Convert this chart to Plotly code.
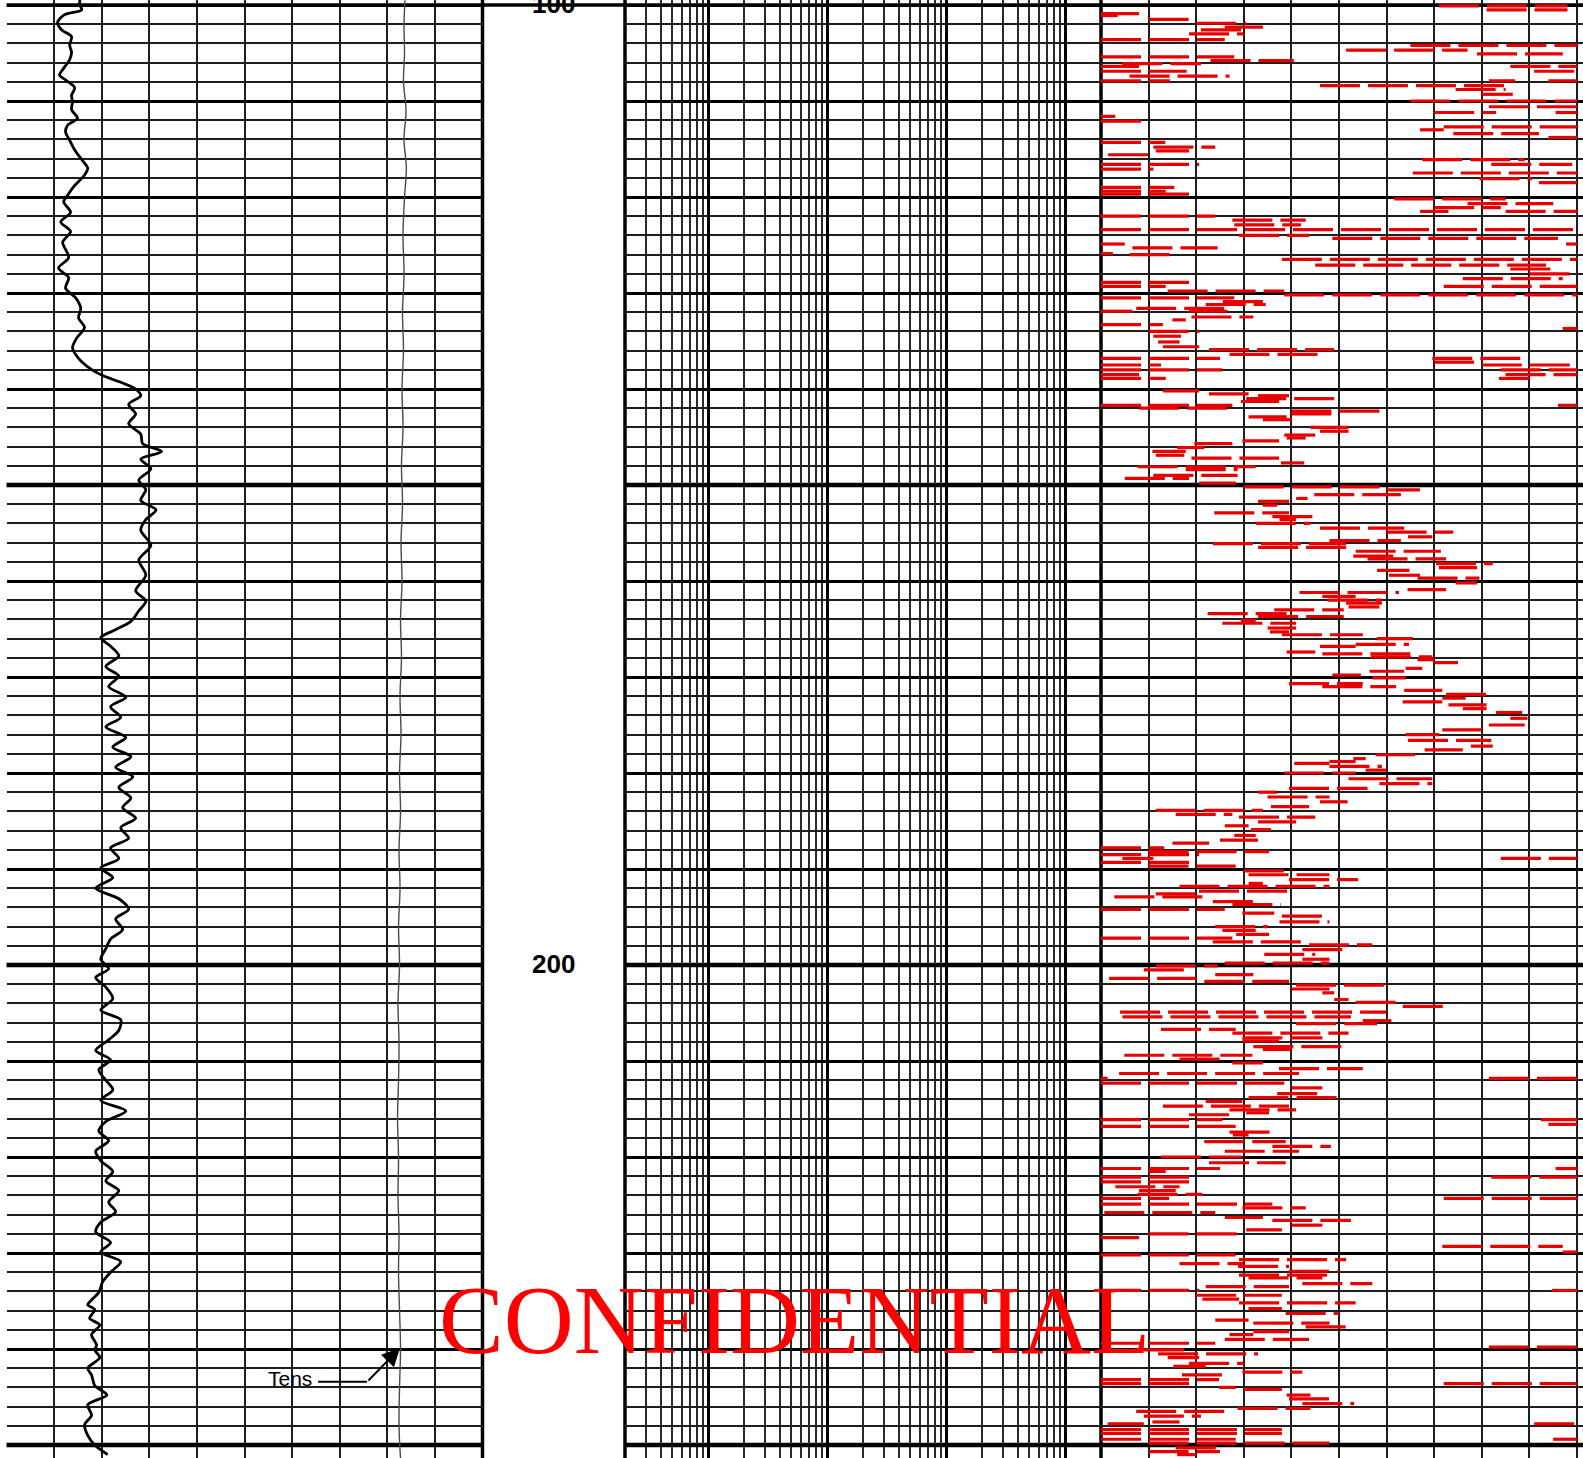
import math
import plotly.graph_objects as go

W, H = 1583, 1458

# ---- depth window shown on the page (track depth increases downwards) ----
DEPTH_TOP = 99.479
DEPTH_BOTTOM = 251.354
depth_labels = [100, 200]

# ---- Track 1: gamma ray (API, 0-150) ----
gr_depth = [99.45, 100.0, 100.5, 101.0, 101.8, 102.6, 103.3, 104.2, 104.9, 105.7, 106.6,
            107.3, 107.8, 108.6, 109.4, 110.1, 110.9, 111.8, 112.5, 113.2, 114.1,
            115.1, 116.1, 117.0, 117.7, 118.8, 119.8, 120.5, 121.6, 122.6, 123.6,
            124.7, 126.3, 127.4, 128.4, 129.5, 130.5, 131.6, 132.6, 133.6, 134.7,
            135.7, 136.8, 137.9, 138.6, 139.3, 140.0, 140.7, 141.6, 142.6, 143.6,
            144.7, 145.7, 146.5, 147.3, 148.3, 149.5, 150.5, 151.6, 152.6, 153.6,
            154.7, 156.3, 157.8, 159.4, 161.0, 162.1, 163.1, 164.2, 165.2, 165.9,
            166.8, 167.8, 168.9, 169.9, 171.0, 172.1, 173.1, 174.2, 175.2, 176.3,
            177.3, 178.3, 179.4, 180.4, 181.5, 182.6, 183.6, 184.7, 185.7, 186.8,
            187.8, 188.9, 189.9, 190.9, 192.0, 193.1, 194.2, 195.2, 196.3, 197.3,
            198.3, 199.4, 200.4, 201.3, 202.3, 203.5, 204.7, 205.7, 206.8, 207.8,
            208.9, 209.9, 210.9, 212.0, 213.0, 214.1, 215.2, 216.3, 217.3, 218.3,
            219.4, 220.4, 221.5, 222.5, 223.5, 224.7, 225.7, 226.8, 227.8, 228.9,
            229.9, 230.9, 232.0, 233.0, 234.1, 234.9, 235.4, 235.9, 236.8, 237.5,
            238.5, 239.6, 240.1, 240.9, 242.0, 242.7, 243.8, 244.8, 245.8, 246.9,
            247.9, 249.0, 250.0, 251.0]
gr_api = [23.1, 23.1, 23.7, 18.3, 16.1, 17.4, 20.5, 19.9, 20.5, 19.9, 18.0,
          16.7, 18.6, 21.5, 20.5, 20.8, 20.5, 22.4, 19.3, 18.6, 19.9,
          21.5, 23.7, 25.6, 24.6, 21.5, 19.3, 18.0, 20.2, 17.1, 20.2,
          17.7, 19.6, 16.4, 19.6, 18.6, 21.8, 23.4, 22.7, 24.6, 22.1,
          20.8, 22.7, 26.5, 30.3, 36.0, 40.7, 42.3, 38.5, 40.7, 38.5,
          42.3, 42.9, 48.9, 42.3, 45.5, 41.7, 43.9, 42.3, 47.1, 43.9,
          42.3, 45.5, 41.7, 43.9, 40.7, 43.9, 41.7, 39.2, 33.5, 29.7,
          32.8, 35.4, 31.3, 35.4, 32.2, 37.6, 32.8, 36.0, 31.3, 37.6,
          33.5, 39.2, 34.4, 39.8, 35.4, 39.2, 36.6, 40.7, 36.0, 38.5,
          32.8, 35.4, 29.7, 33.5, 28.1, 35.4, 38.5, 34.4, 36.6, 32.8,
          31.3, 29.7, 32.2, 28.1, 31.3, 33.5, 29.7, 36.0, 35.4, 32.2,
          28.1, 32.8, 29.1, 31.3, 33.5, 29.7, 37.6, 31.3, 29.1, 32.2,
          28.1, 29.7, 33.5, 31.3, 35.4, 32.2, 34.4, 29.7, 28.1, 32.8,
          29.7, 36.0, 32.8, 30.3, 29.1, 26.8, 25.6, 27.8, 26.2, 29.4,
          26.8, 28.4, 27.8, 29.4, 25.6, 26.8, 27.8, 31.6, 25.6, 26.8,
          24.6, 25.6, 27.8, 31.9]

# ---- Track 1: cable tension (lbf, 0-10000) ----
tens_depth = [99.5, 102, 105, 108, 111, 114, 117, 120, 124, 128, 132, 136, 140, 144,
              148, 152, 156, 160, 164, 168, 172, 176, 180, 184, 188, 192, 196, 200,
              204, 208, 212, 216, 220, 224, 228, 232, 236, 240, 244, 248, 251.4]
tens_lbf = [8372, 8351, 8362, 8340, 8393, 8351, 8400, 8362, 8330, 8351, 8320, 8340, 8309, 8330,
            8298, 8320, 8288, 8309, 8278, 8298, 8267, 8288, 8257, 8278, 8246, 8267, 8236, 8257,
            8225, 8246, 8236, 8215, 8236, 8225, 8246, 8236, 8257, 8278, 8257, 8246, 8278]

# ---- Track 3: raster curve, stored as horizontal strokes (depth, from, to) on a 0-100 scale ----
trk3_depth = [
    100.1, 100.5, 100.9, 101.1, 101.5, 101.9,
    102.3, 102.6, 103.0, 103.6, 104.2, 104.7,
    105.1, 105.4, 105.8, 106.1, 106.4, 106.4,
    106.9, 106.9, 107.4, 107.9, 107.9, 107.9,
    108.4, 108.8, 109.3, 110.0, 110.6, 111.2,
    111.2, 111.6, 112.1, 112.7, 113.0, 113.4,
    113.8, 114.3, 114.8, 115.2, 115.6, 116.1,
    116.6, 116.6, 117.1, 117.5, 118.1, 118.5,
    119.0, 119.4, 119.7, 120.2, 120.7, 121.1,
    121.5, 121.5, 122.0, 122.4, 122.9, 123.4,
    124.0, 124.3, 124.9, 124.9, 125.3, 125.9,
    126.0, 126.5, 127.1, 127.5, 128.0, 128.5,
    128.9, 129.3, 129.3, 129.8, 130.2, 130.5,
    130.9, 131.2, 131.6, 131.9, 131.9, 132.5,
    132.8, 133.3, 133.7, 134.0, 134.5, 135.1,
    135.6, 135.9, 136.4, 136.8, 136.8, 137.2,
    137.5, 137.5, 138.0, 138.0, 138.5, 138.5,
    138.9, 138.9, 140.2, 140.5, 140.7, 141.0,
    141.3, 141.7, 141.7, 142.0, 142.3, 142.6,
    142.9, 143.2, 144.0, 144.4, 144.8, 145.1,
    145.4, 145.7, 146.1, 146.5, 146.9, 147.2,
    147.7, 148.1, 148.4, 149.0, 149.3, 149.8,
    150.2, 150.5, 151.0, 151.4, 151.7, 152.1,
    152.9, 153.3, 153.6, 154.0, 154.5, 154.9,
    155.4, 155.8, 156.1, 156.5, 156.9, 157.4,
    157.7, 158.2, 158.6, 158.9, 159.4, 159.7,
    160.2, 160.9, 161.2, 161.6, 162.0, 162.3,
    162.7, 163.0, 163.4, 163.7, 164.1, 164.4,
    164.9, 165.3, 165.6, 166.0, 166.6, 166.8,
    167.4, 167.6, 167.9, 168.2, 168.5, 169.1,
    169.4, 169.8, 170.1, 170.7, 171.0, 171.4,
    171.8, 172.2, 172.6, 172.9, 173.3, 173.7,
    174.3, 175.0, 175.5, 176.0, 176.6, 177.2,
    177.6, 178.1, 178.5, 178.8, 179.0, 179.3,
    179.7, 180.0, 180.6, 181.1, 181.6, 182.0,
    182.5, 183.0, 183.5, 183.9, 184.3, 184.6,
    185.1, 185.5, 185.9, 186.5, 187.0, 187.3,
    187.8, 188.2, 188.5, 188.9, 188.9, 189.3,
    189.7, 190.2, 190.6, 191.1, 191.5, 191.8,
    192.3, 192.6, 192.9, 193.4, 193.7, 194.2,
    194.6, 194.9, 195.5, 196.0, 196.4, 196.8,
    197.2, 197.6, 197.9, 198.4, 198.9, 199.4,
    199.8, 200.1, 200.5, 201.0, 201.4, 201.7,
    202.1, 202.5, 202.9, 203.6, 203.9, 204.3,
    204.9, 205.4, 205.8, 206.1, 206.7, 207.1,
    207.6, 207.9, 208.5, 208.8, 209.4, 209.8,
    210.2, 210.8, 211.3, 211.8, 211.8, 212.3,
    212.8, 213.4, 213.8, 214.2, 214.7, 215.1,
    215.4, 215.6, 216.1, 216.1, 216.6, 216.8,
    217.4, 217.7, 218.4, 218.9, 219.4, 220.0,
    220.6, 221.2, 221.2, 221.5, 222.1, 222.1,
    222.6, 223.1, 223.5, 223.9, 224.3, 224.3,
    224.9, 225.3, 225.8, 226.3, 226.6, 227.1,
    227.6, 228.0, 228.4, 229.3, 229.9, 230.2,
    230.7, 231.1, 231.4, 231.9, 232.3, 232.6,
    233.2, 233.5, 233.9, 233.9, 234.4, 234.8,
    235.2, 235.8, 236.3, 237.0, 237.3, 237.7,
    238.2, 238.5, 239.0, 239.4, 239.8, 240.1,
    240.5, 240.9, 241.5, 241.8, 242.4, 242.7,
    243.2, 243.6, 243.6, 244.0, 244.2, 244.8,
    245.2, 245.7, 246.2, 246.5, 247.0, 247.6,
    247.8, 247.8, 248.4, 248.8, 249.4, 249.4,
    249.8, 250.3, 250.7, 251.0,
]
trk3_from = [
    71, 81, 0, 0, 10, 20,
    26, 21, 18.5, 0, 65, 51.5,
    79, 0, 23, 4.5, 0, 86,
    0, 91, 6, 0, 81.5, 94,
    46, 74.5, 80, 65, 81.5, 70,
    95.5, 0, 0, 72, 67, 74,
    94, 0, 11, 11.5, 1.5, 67.5,
    0, 82, 0, 65.5, 79.5, 92,
    0, 0, 0, 61.6, 77, 70,
    67, 85, 0, 27.6, 28, 0,
    29, 48.6, 0, 97.7, 6.6, 0,
    6, 38, 45, 86, 90, 76,
    0, 0, 72, 14, 38.5, 0,
    25.6, 22, 7.4, 0, 18.5, 19,
    15, 0, 97, 10, 11, 12,
    13, 22.7, 27, 0, 69.6, 70,
    0, 80, 0, 84, 0, 85,
    0, 83.6, 13, 22.7, 33, 30.5,
    29.4, 0, 96, 8, 40, 40,
    31, 34, 44, 46, 38.5, 39,
    29.7, 19.6, 16, 10.8, 11.5, 19,
    37.8, 7.7, 17.8, 11, 5, 20.6,
    30, 60, 44.8, 41, 33, 34,
    23.8, 36, 37.5, 32.5, 46, 60,
    64.5, 48, 23.5, 33, 53.5, 53,
    56, 70.4, 71, 58, 60.5, 66.5,
    74.5, 64.4, 41.7, 46.5, 47.6, 51.5,
    52, 36.4, 22.4, 33, 29.4, 25.5,
    35, 35.5, 38, 58, 53.5, 46,
    39, 46.5, 56.7, 66.5, 70, 64,
    56.4, 48.6, 57, 39.5, 46.5, 63.7,
    72.5, 71.7, 63.4, 73, 76, 83,
    86, 81.5, 71.7, 64, 64.5, 77.7,
    68, 57.7, 53, 48, 40.6, 48,
    55.6, 38.5, 52, 58.5, 39.5, 33,
    35, 46, 35.7, 11.5, 15.7, 29,
    33, 26, 31.5, 28, 25, 15,
    0, 10, 0, 4.5, 84, 0,
    10, 30, 31, 39.5, 31, 16.5,
    20.6, 11.5, 2.8, 23.5, 27.6, 0,
    29.7, 38, 37.5, 24, 25.5, 28.4,
    0, 23.5, 43.7, 42.3, 34.3, 42.3,
    26, 11.5, 9, 24, 1.7, 21.7,
    41, 40, 46.5, 49, 53.5, 63.4,
    4, 4.5, 55, 41, 12.6, 27.6,
    29.7, 29.7, 32, 34, 4.9, 16.5,
    27.6, 37.4, 3.8, 0, 81.5, 0,
    40, 37, 31, 22, 13, 27,
    30.5, 18.5, 0, 92.4, 94, 0,
    27, 27.7, 21.7, 36, 26, 12.6,
    22.7, 0, 95.5, 10, 0, 82,
    0, 3, 8, 7.7, 0, 72,
    0, 29.7, 0.7, 26, 36, 40,
    30.5, 10, 0, 71.7, 97, 0,
    29, 16.5, 28.8, 39.5, 29, 31,
    42.3, 22, 0, 94.8, 20, 21.3,
    29, 31, 38.8, 24, 32, 43,
    32, 27, 26, 0, 81.5, 9,
    12, 14, 18.5, 15.2, 29.7, 17,
    0, 0, 72, 24.8, 30, 39,
    39.5, 42.3, 28.7, 7.4, 9, 10.8,
    1.4, 91, 0, 0, 0, 95,
    10, 15.7, 10, 16,
]
trk3_to = [
    98, 98, 8, 3.5, 18.5, 30.5,
    34, 31, 30, 26, 100, 77,
    97, 28, 40.5, 21, 8, 100,
    18, 100, 27, 14.5, 87, 100,
    86, 85, 86.5, 100, 100, 83,
    100, 3, 9, 100, 72, 92,
    100, 13.5, 24, 18.5, 10, 89,
    20.6, 99, 11, 100, 90.6, 100,
    15.4, 13.6, 19.6, 85, 95, 84,
    73, 100, 24, 43, 42, 100,
    43.7, 96, 5, 100, 24.5, 2.5,
    14.4, 100, 93.5, 95.5, 100, 97,
    18.5, 13.6, 100, 38.5, 100, 28,
    34.6, 34.6, 26, 6.6, 26.6, 32,
    17.8, 13, 100, 20.6, 16.8, 16.5,
    20.6, 49, 46.5, 25, 89, 80,
    12.6, 100, 25.5, 100, 8, 100,
    13.6, 90, 20.6, 31, 39.5, 50,
    37.4, 27.6, 100, 28, 58.5, 48.6,
    39, 40, 52, 52, 45, 43,
    37.4, 27.6, 21.7, 17.8, 17.5, 37.4,
    42.7, 32.5, 28.7, 28.7, 18.5, 28.3,
    58.5, 67, 63, 43.4, 39.5, 37,
    39.5, 46, 41, 44, 63.7, 74,
    69.6, 63, 51.5, 51.5, 71.4, 62,
    72.5, 82.3, 79, 64.8, 67, 79.5,
    79, 72.5, 62.6, 53.5, 59, 59,
    58.5, 51, 39, 51, 32.5, 41,
    41, 39.5, 55, 65.5, 64.7, 53.5,
    45, 65, 69.6, 70, 75, 67.5,
    63.7, 54.6, 64, 55, 62, 71.7,
    82.3, 76.6, 71.7, 81, 81, 88.5,
    89.6, 89, 80, 71, 82, 82.3,
    76, 66, 55.6, 53.5, 48, 59,
    60, 53.5, 69.6, 69.6, 56, 37,
    48, 51.8, 43.7, 34, 27.6, 45,
    41, 31, 35.7, 32.5, 33, 22.7,
    13.3, 35.3, 20.6, 11, 100, 18.5,
    28.3, 39.5, 48, 54, 34, 48,
    39.5, 20, 21.3, 32, 37.8, 26,
    36.4, 46.5, 48, 35, 32.5, 35.3,
    27.6, 42.3, 57, 50.8, 45, 48,
    48, 24.5, 19, 32, 20, 39.5,
    60, 48, 49, 52, 62, 72.5,
    60, 52.5, 61, 58, 28.3, 52,
    46.5, 37.4, 52, 40, 31.8, 25.5,
    34, 55, 41.6, 1.4, 100, 38.5,
    46.5, 45.9, 49.7, 29.7, 39.5, 41,
    35.3, 27, 25.5, 100, 100, 28.3,
    36.7, 31, 38.8, 48.3, 41.6, 29.7,
    38.8, 25, 100, 13.6, 18.5, 100,
    18.5, 16.5, 15.7, 21.3, 14.3, 100,
    36, 43, 24, 34, 52.5, 46.5,
    38, 28.7, 8, 97, 100, 28.3,
    51.5, 30, 39.5, 50, 49, 46.5,
    57, 39.5, 20.6, 100, 38, 29,
    53.5, 38, 50, 31, 48, 51.5,
    39.5, 32, 43.7, 24, 100, 18.5,
    33, 20.6, 30, 22, 42.3, 27,
    24.8, 18.5, 100, 28.3, 38, 44,
    48, 53.2, 44, 27, 21, 16.5,
    9, 100, 38, 38, 28.3, 100,
    48, 25.5, 25, 20,
]

# ---- page geometry (pixels) ----
T1 = (6.5, 482.5)      # track 1
T2 = (625.0, 1101.0)   # track 2 (4-decade log grid)
T3 = (1101.0, 1583.0)  # track 3
T3_MAX = (T3[1] - T3[0]) / 4.76  # 10 divisions of 47.6 px

fig = go.Figure()

# track 2 carries no curve in this interval; an empty trace keeps its grid panel
fig.add_trace(go.Scatter(x=[None], y=[None], xaxis="x2", yaxis="y", mode="lines",
                         hoverinfo="skip"))

# track 3 strokes -> one broken line trace
sx, sy = [], []
for d, a, b in zip(trk3_depth, trk3_from, trk3_to):
    sx += [a, b, None]
    sy += [d, d, None]
fig.add_trace(go.Scatter(x=sx, y=sy, xaxis="x3", yaxis="y", mode="lines",
                         line=dict(color="#e60000", width=3.2, dash="40px,8px"),
                         connectgaps=False, hoverinfo="skip"))

# gamma ray
fig.add_trace(go.Scatter(x=gr_api, y=gr_depth, xaxis="x", yaxis="y", mode="lines",
                         line=dict(color="black", width=2.8, shape="spline", smoothing=0.8),
                         hoverinfo="skip"))

# tension
fig.add_trace(go.Scatter(x=tens_lbf, y=tens_depth, xaxis="x4", yaxis="y", mode="lines",
                         line=dict(color="#4a4a4a", width=1.4, shape="spline", smoothing=1.0),
                         hoverinfo="skip"))

grid_dark = "#1e1e1e"
common_x = dict(showticklabels=False, zeroline=False, ticks="", showline=False,
                anchor="y", fixedrange=True)

log_minor = [m * 10 ** k for k in range(0, 4) for m in range(2, 10) if m * 10 ** k > 2]
log_minor = [v for v in log_minor if v < 20000]

fig.update_layout(
    template="none",
    width=W, height=H, margin=dict(l=0, r=0, t=0, b=0), autosize=False,
    paper_bgcolor="white", plot_bgcolor="white", showlegend=False,
    xaxis=dict(domain=[T1[0] / W, T1[1] / W], range=[0, 150], tickmode="array",
               tickvals=[15, 30, 45, 60, 75, 90, 105, 120, 135],
               showgrid=True, gridcolor=grid_dark, gridwidth=1.8, **common_x),
    xaxis2=dict(domain=[T2[0] / W, T2[1] / W], type="log",
                range=[math.log10(2), math.log10(20000)], tickmode="array",
                tickvals=[10, 100, 1000, 10000], showgrid=True, gridcolor="black",
                gridwidth=3,
                minor=dict(tickmode="array", tickvals=log_minor, showgrid=True,
                           gridcolor="#2a2a2a", gridwidth=1.6, ticks=""),
                **common_x),
    xaxis3=dict(domain=[T3[0] / W, T3[1] / W], range=[0, T3_MAX], tickmode="array",
                tickvals=[10, 20, 30, 40, 50, 60, 70, 80, 90, 100],
                showgrid=True, gridcolor=grid_dark, gridwidth=1.8, **common_x),
    # tension scale overlaid on track 1, no grid or axis line of its own
    xaxis4=dict(overlaying="x", range=[0, 10000], anchor="y", showgrid=False,
                zeroline=False, showline=False, showticklabels=False, ticks="",
                fixedrange=True),
    yaxis=dict(domain=[0, 1], range=[DEPTH_BOTTOM, DEPTH_TOP], anchor="x",
               tickmode="array", tickvals=list(range(100, 252, 10)),
               showgrid=True, gridcolor="black", gridwidth=2.6,
               minor=dict(tickmode="array",
                          tickvals=[d for d in range(100, 252, 2) if d % 10],
                          showgrid=True, gridcolor=grid_dark, gridwidth=1.7, ticks=""),
               showticklabels=False, zeroline=False, ticks="", showline=False,
               fixedrange=True),
)

shapes = []
# heavy lines every 50 depth units, drawn per track
for d in (150, 200, 250):
    for ref in ("x domain", "x2 domain", "x3 domain"):
        shapes.append(dict(type="line", xref=ref, yref="y", x0=0, x1=1, y0=d, y1=d,
                           line=dict(color="black", width=4.5), layer="below"))
# heading line at the top of the interval
shapes.append(dict(type="line", xref="paper", yref="y", x0=T1[0] / W, x1=1,
                   y0=100, y1=100, line=dict(color="black", width=3.5), layer="below"))
# track borders (track 1 is open on its left side)
for ref, xv in (("x domain", 1), ("x2 domain", 0), ("x2 domain", 1)):
    shapes.append(dict(type="line", xref=ref, yref="paper", x0=xv, x1=xv, y0=0, y1=1,
                       line=dict(color="black", width=3.5), layer="below"))
# leader for the tension label
shapes.append(dict(type="line", xref="x", yref="y", x0=98.2, x1=113.6, y0=243.4, y1=243.4,
                   line=dict(color="black", width=2)))
fig.update_layout(shapes=shapes)

annotations = []
for d in depth_labels:
    annotations.append(dict(xref="paper", yref="y", x=553.5 / W, y=d, text=str(d),
                            showarrow=False, xanchor="center", yanchor="middle", yshift=1,
                            font=dict(family="Liberation Sans, Arial", size=26,
                                      color="black", weight="bold")))
annotations.append(dict(xref="x", yref="y", x=89.3, y=243.07, text="Tens", showarrow=False,
                        xanchor="center", yanchor="middle",
                        font=dict(family="Liberation Sans, Arial", size=21, color="black")))
annotations.append(dict(xref="x", yref="y", x=124.0, y=239.9, text="", showarrow=True,
                        ax=-33, ay=34, arrowhead=2, arrowsize=1.8, arrowwidth=2,
                        arrowcolor="black", standoff=0))
annotations.append(dict(xref="paper", yref="paper", x=794 / W, y=1 - 1320 / H,
                        text="CONFIDENTIAL", showarrow=False, xanchor="center",
                        yanchor="middle",
                        font=dict(family="Liberation Serif, Times New Roman", size=97,
                                  color="#ff0000")))
fig.update_layout(annotations=annotations)

fig.write_html("out.html")
